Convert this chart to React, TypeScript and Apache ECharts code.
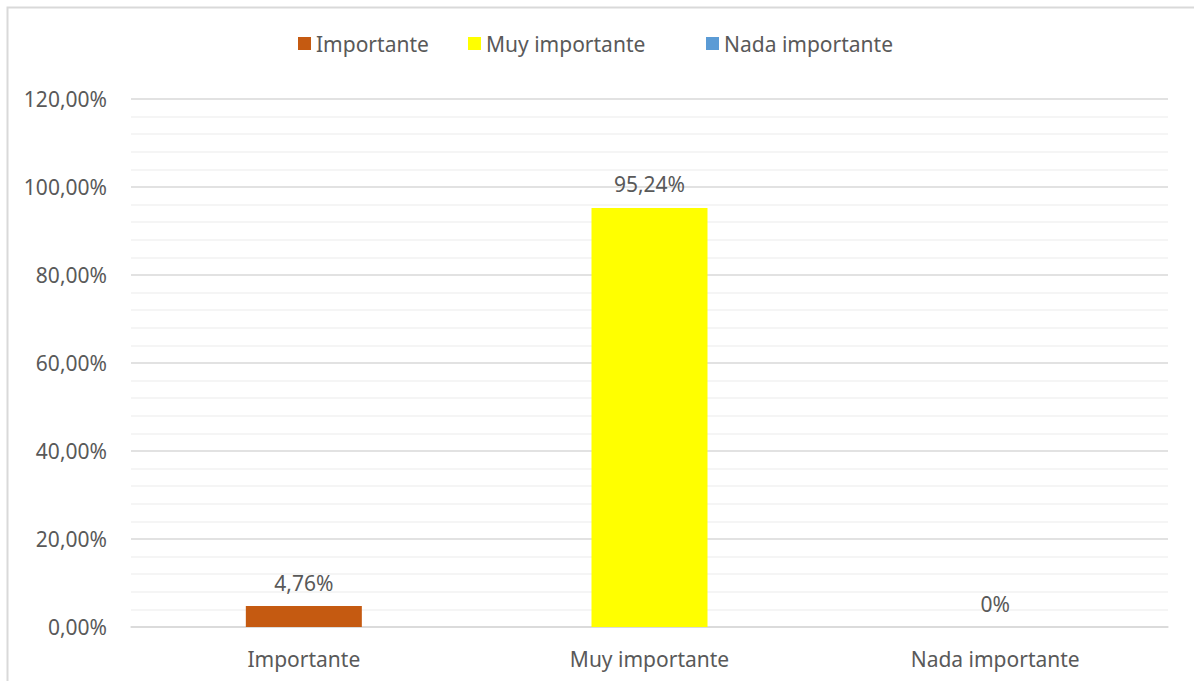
import React, { useEffect, useRef } from "react";
import * as echarts from "echarts";

const categories = ["Importante", "Muy importante", "Nada importante"];
const seriesNames = ["Importante", "Muy importante", "Nada importante"];
const values = [4.76, 95.24, 0];
const valueLabels = ["4,76%", "95,24%", "0%"];
const colors = ["#C55A11", "#FFFF00", "#5B9BD5"];
const yTickLabels = ["0,00%", "20,00%", "40,00%", "60,00%", "80,00%", "100,00%", "120,00%"];
const legendLefts = [298, 468, 706];

const FONT = "'Noto Sans', 'Open Sans', sans-serif";
const TEXT = "#595959";
const FS = 21;

export default function App() {
  const ref = useRef<HTMLDivElement>(null);
  useEffect(() => {
    document.body.style.margin = "0";
    const chart = echarts.init(ref.current!, null, { renderer: "svg" });
    const series = seriesNames.map((name, i) => ({
      name,
      type: "bar",
      stack: "all",
      barWidth: 116,
      itemStyle: { color: colors[i] },
      data: categories.map((_, j) => (j === i ? values[j] : null)),
      label: {
        show: true,
        position: "top",
        distance: 13,
        color: TEXT,
        fontFamily: FONT,
        fontSize: FS,
        formatter: () => valueLabels[i],
      },
    }));
    chart.setOption({
      animation: false,
      backgroundColor: "#ffffff",
      textStyle: { fontFamily: FONT },
      graphic: [
        {
          type: "polyline",
          shape: { points: [[7.5, 700], [7.5, 7.5], [1200, 7.5]] },
          style: { stroke: "#d9d9d9", lineWidth: 2, fill: "none" },
          silent: true,
        },
      ],
      legend: seriesNames.map((name, i) => ({
        data: [name],
        left: legendLefts[i],
        top: 33,
        padding: 0,
        itemWidth: 13,
        itemHeight: 13,
        itemGap: 0,
        icon: "rect",
        selectedMode: false,
        textStyle: { color: TEXT, fontFamily: FONT, fontSize: FS },
      })),
      grid: { left: 131, right: 26, top: 99, bottom: 54, containLabel: false },
      xAxis: {
        type: "category",
        data: categories,
        axisLine: { lineStyle: { color: "#d9d9d9", width: 1.5 } },
        axisTick: { show: false },
        axisLabel: { color: TEXT, fontFamily: FONT, fontSize: FS, margin: 21 },
        splitLine: { show: false },
      },
      yAxis: {
        type: "value",
        min: 0,
        max: 120,
        interval: 20,
        axisLine: { show: false },
        axisTick: { show: false },
        axisLabel: {
          color: TEXT,
          fontFamily: FONT,
          fontSize: FS,
          margin: 24,
          formatter: (v: number) => yTickLabels[Math.round(v / 20)],
        },
        splitLine: { lineStyle: { color: "#d9d9d9", width: 1.5 } },
        minorTick: { show: false, splitNumber: 5 },
        minorSplitLine: { show: true, lineStyle: { color: "#f2f2f2", width: 1.5 } },
      },
      series,
    });
    return () => chart.dispose();
  }, []);
  return <div ref={ref} style={{ width: 1194, height: 681, position: "absolute", left: 0, top: 0 }} />;
}
